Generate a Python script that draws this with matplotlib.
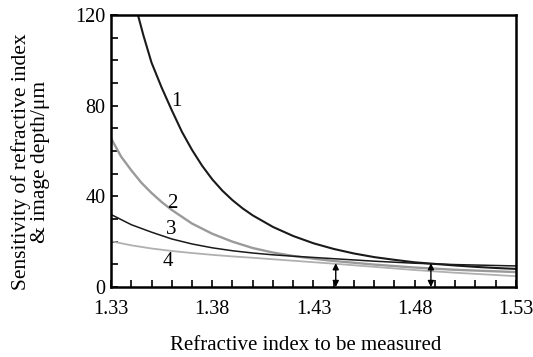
import matplotlib

matplotlib.use("Agg")
import matplotlib.pyplot as plt
from matplotlib.ticker import MultipleLocator

# values
n1 = [1.3433, 1.346, 1.350, 1.355, 1.360, 1.365, 1.370, 1.375, 1.380, 1.385,
      1.390, 1.395, 1.400, 1.410, 1.420, 1.430, 1.440, 1.450, 1.460, 1.470,
      1.480, 1.490, 1.500, 1.510, 1.520, 1.530]
s1 = [120.0, 111.0, 99.0, 88.0, 78.0, 68.5, 60.5, 53.5, 47.5, 42.5,
      38.3, 34.7, 31.6, 26.5, 22.5, 19.3, 16.8, 14.8, 13.2, 12.0,
      10.9, 10.2, 9.5, 8.9, 8.4, 8.0]

n2 = [1.330, 1.335, 1.340, 1.345, 1.350, 1.355, 1.360, 1.370, 1.380, 1.390,
      1.400, 1.410, 1.420, 1.430, 1.440, 1.460, 1.480, 1.500, 1.530]
s2 = [65.6, 57.5, 51.5, 46.0, 41.5, 37.5, 34.0, 28.0, 23.5, 20.0,
      17.2, 15.2, 13.7, 12.5, 11.5, 9.9, 8.6, 7.6, 6.6]

n3 = [1.330, 1.340, 1.350, 1.360, 1.370, 1.380, 1.390, 1.400, 1.410, 1.420,
      1.440, 1.460, 1.480, 1.490, 1.500, 1.530]
s3 = [32.0, 27.5, 24.2, 21.2, 19.0, 17.3, 16.0, 15.0, 14.2, 13.6,
      12.5, 11.4, 10.5, 10.2, 9.9, 9.3]

n4 = [1.330, 1.340, 1.350, 1.360, 1.370, 1.380, 1.390, 1.400, 1.420, 1.440,
      1.460, 1.480, 1.500, 1.530]
s4 = [20.2, 18.4, 17.0, 15.9, 15.0, 14.2, 13.5, 12.9, 11.6, 10.3,
      8.9, 7.5, 6.3, 4.8]

curve_labels = ["1", "2", "3", "4"]
label_pos = [(1.3625, 82.0), (1.3605, 37.0), (1.3597, 25.5), (1.3583, 11.1)]

arrow_n = [1.441, 1.488]
arrow_top = [10.5, 10.5]

plt.rcParams["font.family"] = ["Liberation Serif", "DejaVu Serif"]

fig = plt.figure(figsize=(5.33, 3.57), dpi=100)
ax = fig.add_axes([0.2083, 0.196, 0.968 - 0.2083, 0.958 - 0.196])

ax.plot(n1, s1, color="#1a1a1a", lw=1.5)
ax.plot(n2, s2, color="#9a9a9a", lw=1.7)
ax.plot(n3, s3, color="#1a1a1a", lw=1.1)
ax.plot(n4, s4, color="#b0b0b0", lw=1.3)

for txt, (x, y) in zip(curve_labels, label_pos):
    ax.text(x, y, txt, fontsize=15, ha="center", va="center")

for x, top in zip(arrow_n, arrow_top):
    ax.annotate("", xy=(x, top), xytext=(x, 0.0),
                arrowprops=dict(arrowstyle="<|-|>", color="black", lw=1.0,
                                mutation_scale=9, shrinkA=0, shrinkB=0))

ax.set_xlim(1.33, 1.53)
ax.set_ylim(0, 120)
ax.set_xticks([1.33, 1.38, 1.43, 1.48, 1.53])
ax.set_xticklabels(["1.33", "1.38", "1.43", "1.48", "1.53"])
ax.set_yticks([0, 40, 80, 120])
ax.xaxis.set_minor_locator(MultipleLocator(0.01))
ax.yaxis.set_minor_locator(MultipleLocator(10))
ax.tick_params(which="both", direction="in", width=1.2, labelsize=14.5,
               top=False, right=False, length=5)
ax.tick_params(axis="x", which="major", pad=9)
ax.tick_params(axis="y", which="major", pad=4)
for sp in ax.spines.values():
    sp.set_linewidth(1.8)

ax.set_xlabel("Refractive index to be measured", fontsize=15)
ax.xaxis.set_label_coords(0.48, -0.18)
ax.set_ylabel("Sensitivity of refractive index\n& image depth/\u03bcm",
              fontsize=15.5, linespacing=1.05)
ax.yaxis.set_label_coords(-0.15, 0.46)

fig.savefig("out.png", dpi=100)
